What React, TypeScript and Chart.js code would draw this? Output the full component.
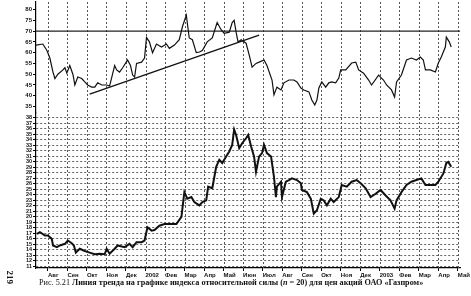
import React, { useEffect, useRef } from "react";
import { Chart, registerables } from "chart.js";

Chart.register(...registerables);

// Month tick labels (index 0 = Aug 2001)
const monthLabels = [
  "Авг", "Сен", "Окт", "Ноя", "Дек", "2002", "Фев", "Мар", "Апр", "Май", "Июн",
  "Июл", "Авг", "Сен", "Окт", "Ноя", "Дек", "2003", "Фев", "Мар", "Апр", "Май",
];

const xMin = -0.61;
const xMax = 21.12;

// RSI (n = 20): time in months since Aug 2001, value
const rsiT = [
  -0.61, -0.26, -0.05, 0.1, 0.26, 0.36, 0.51, 0.77, 0.87, 0.97, 1.12, 1.28, 1.38, 1.53,
  1.73, 1.89, 2.04, 2.24, 2.4, 2.55, 2.76, 3.01, 3.16, 3.42, 3.52, 3.67, 3.83, 4.08,
  4.23, 4.34, 4.44, 4.54, 4.8, 4.95, 5.05, 5.2, 5.36, 5.56, 5.82, 6.07, 6.22, 6.48,
  6.73, 6.89, 7.09, 7.24, 7.4, 7.6, 7.76, 7.91, 8.16, 8.42, 8.67, 8.88, 9.03, 9.29,
  9.44, 9.54, 9.64, 9.74, 9.9, 10.15, 10.31, 10.46, 10.66, 10.82, 11.07, 11.22, 11.48,
  11.58, 11.73, 11.94, 12.09, 12.35, 12.6, 12.76, 12.96, 13.11, 13.37, 13.52, 13.67,
  13.78, 13.88, 14.03, 14.23, 14.39, 14.54, 14.74, 14.9, 15.0, 15.26, 15.56, 15.77,
  15.92, 16.17, 16.43, 16.58, 16.94, 17.19, 17.35, 17.6, 17.76, 17.86, 18.11, 18.37,
  18.62, 18.88, 19.08, 19.23, 19.34, 19.59, 19.85, 20.0, 20.15, 20.36, 20.41, 20.56,
  20.66,
];
const rsiV = [
  63.5, 64, 61, 57.5, 51, 48, 50, 52, 53, 50.5, 54, 50, 45, 48.7,
  48, 46.4, 45, 44, 44, 46, 45, 45, 44.5, 54, 52, 51, 53, 56.6,
  54, 49.6, 48.7, 55, 55.6, 57.5, 67, 65, 60, 64, 62.6, 64, 62, 63.5,
  66, 72, 77.4, 66.8, 66, 60, 60.3, 61, 65, 66.8, 74, 70.5, 69, 69.5,
  74, 75, 69.5, 65, 66, 64.4, 59, 53.3, 55, 55.6, 56.6, 54, 47.3,
  40.4, 44, 42.7, 46, 47.3, 47.3, 46.4, 43.6, 42.7, 41.8, 38, 35.7,
  38, 43.6, 46.4, 44, 46, 46.4, 46, 48.2, 52, 52, 55.2, 55.6,
  52, 50.5, 47.3, 45, 49.6, 47.3, 45, 42.7, 39.4, 46.4, 49.6, 56.6,
  57.5, 56.6, 58, 56.6, 52, 52, 51, 55.2, 58, 62.6, 67.2, 65,
  62.6,
];

// Gazprom share price
const priceT = [
  -0.56, -0.41, -0.15, 0.0, 0.2, 0.26, 0.46, 0.61, 0.87, 1.02, 1.22, 1.33, 1.43, 1.63,
  1.89, 2.14, 2.4, 2.65, 2.91, 3.01, 3.16, 3.42, 3.57, 3.93, 4.18, 4.34, 4.54, 4.8,
  4.95, 5.1, 5.31, 5.46, 5.71, 5.97, 6.22, 6.58, 6.84, 6.99, 7.14, 7.35, 7.5, 7.76,
  7.91, 8.11, 8.21, 8.42, 8.62, 8.78, 8.93, 9.13, 9.29, 9.44, 9.54, 9.64, 9.8, 9.95,
  10.15, 10.26, 10.41, 10.56, 10.66, 10.82, 10.97, 11.07, 11.22, 11.43, 11.58, 11.68,
  11.73, 11.94, 11.99, 12.19, 12.35, 12.5, 12.76, 12.96, 13.01, 13.27, 13.47, 13.62,
  13.78, 13.98, 14.13, 14.29, 14.49, 14.64, 14.9, 15.05, 15.31, 15.56, 15.82, 16.02,
  16.28, 16.53, 16.79, 17.04, 17.3, 17.55, 17.76, 17.86, 18.11, 18.37, 18.62, 18.88,
  19.13, 19.34, 19.59, 19.85, 20.0, 20.26, 20.41, 20.51, 20.66,
];
const priceV = [
  16.9, 17.2, 16.6, 16.6, 16, 14.8, 14.5, 14.8, 15.1, 15.7, 15.2, 14.8, 13.5, 14.2,
  13.8, 13.5, 13.2, 13.3, 13.2, 14.2, 13.3, 14.2, 14.8, 14.5, 15.1, 14.5, 15.4, 15.4,
  15.7, 18.1, 17.5, 17.6, 18.4, 18.7, 18.7, 18.7, 20, 24.5, 23.3, 23.6, 22.7, 22.1,
  22.7, 23, 25.5, 25.2, 29.1, 30.4, 29.8, 31, 31.9, 33.1, 35.9, 34.9, 32.5, 33.4,
  34.3, 34.9, 32.8, 31, 28.2, 31, 31.6, 33.1, 31.6, 31, 27.3, 23.6,
  25.5, 26.4, 23.6, 26.4, 26.7, 27, 26.7, 26.1, 24.9, 24.5, 23.3, 20.6,
  21.2, 23.3, 23, 22.1, 23.3, 22.7, 23.6, 25.8, 25.5, 26.4, 26.7, 26.1,
  25.2, 23.6, 24.2, 24.9, 23.9, 23, 21.5, 23, 24.5, 25.8, 26.4, 26.7,
  27, 25.8, 25.8, 25.8, 26.4, 27.9, 29.8, 30, 29.1,
];

// Trend line on RSI and the 70 level
const trendT = [2.14, 10.82];
const trendV = [40.8, 68.1];
const levelT = [xMin, xMax];
const levelV = [70, 70];

const zip = (t: number[], v: number[]) => t.map((x, i) => ({ x, y: v[i] }));

const tickFont = { family: "'Liberation Sans', Arial, sans-serif", size: 6, weight: "bold" as const };

// Dotted vertical month grid spanning both panes
const monthGrid = {
  id: "monthGrid",
  beforeDatasetsDraw(chart: any) {
    const { ctx, chartArea, scales } = chart;
    const xs = scales.x;
    ctx.save();
    ctx.strokeStyle = "#555";
    ctx.lineWidth = 1;
    ctx.setLineDash([2, 2]);
    xs.ticks.forEach((t: any) => {
      const px = Math.round(xs.getPixelForValue(t.value)) + 0.5;
      ctx.beginPath();
      ctx.moveTo(px, chartArea.top);
      ctx.lineTo(px, chartArea.bottom);
      ctx.stroke();
    });
    ctx.restore();
  },
};

export default function App() {
  const ref = useRef<HTMLCanvasElement | null>(null);

  useEffect(() => {
    if (!ref.current) return;
    const chart = new Chart(ref.current, {
      type: "line",
      plugins: [monthGrid],
      data: {
        datasets: [
          {
            data: zip(priceT, priceV),
            yAxisID: "y",
            borderColor: "#111",
            borderWidth: 2,
            pointRadius: 0,
            tension: 0,
          },
          {
            data: zip(rsiT, rsiV),
            yAxisID: "yR",
            borderColor: "#111",
            borderWidth: 1.2,
            pointRadius: 0,
            tension: 0,
          },
          {
            data: zip(trendT, trendV),
            yAxisID: "yR",
            borderColor: "#111",
            borderWidth: 1.3,
            pointRadius: 0,
          },
          {
            data: zip(levelT, levelV),
            yAxisID: "yR",
            borderColor: "#222",
            borderWidth: 1.4,
            pointRadius: 0,
          },
        ],
      },
      options: {
        responsive: false,
        animation: false,
        layout: { padding: { left: 0, right: 9, top: 2, bottom: 16 } },
        plugins: { legend: { display: false }, tooltip: { enabled: false } },
        scales: {
          x: {
            type: "linear",
            min: xMin,
            max: xMax,
            ticks: {
              stepSize: 1,
              includeBounds: false,
              autoSkip: false,
              maxRotation: 0,
              align: "start",
              padding: 1,
              color: "#111",
              font: tickFont,
              callback: (v: any) => monthLabels[Math.round(Number(v))] ?? "",
            },
            grid: { drawOnChartArea: false, color: "#444", lineWidth: 1, tickLength: 3, tickColor: "#000" },
            border: { color: "#000", width: 1.2 },
            afterFit: (s: any) => {
              s.height = 12;
            },
          },
          y: {
            type: "linear",
            position: "left",
            stack: "panes",
            stackWeight: 155,
            min: 10.7,
            max: 38.9,
            ticks: {
              stepSize: 1,
              includeBounds: false,
              autoSkip: false,
              padding: 1,
              color: "#111",
              font: { ...tickFont, size: 5.5 },
            },
            grid: { color: "#666", lineWidth: 1, tickLength: 3, tickColor: "#000" },
            border: { color: "#000", width: 1.2, dash: [2, 2] },
            afterFit: (s: any) => {
              s.width = 36;
              s.paddingTop = 0;
              s.paddingBottom = 0;
            },
          },
          yR: {
            type: "linear",
            position: "left",
            stack: "panes",
            stackWeight: 111,
            min: 32,
            max: 83.5,
            ticks: {
              stepSize: 5,
              includeBounds: false,
              autoSkip: false,
              padding: 1,
              color: "#111",
              font: tickFont,
            },
            grid: { drawOnChartArea: false, tickLength: 3, tickColor: "#000" },
            border: { color: "#000", width: 1.2 },
            afterFit: (s: any) => {
              s.width = 36;
              s.paddingTop = 0;
              s.paddingBottom = 0;
            },
          },
        },
      },
    });
    return () => chart.destroy();
  }, []);

  return (
    <div
      style={{
        position: "fixed",
        left: 0,
        top: 0,
        width: 471,
        height: 296,
        background: "#fff",
        overflow: "hidden",
      }}
    >
      <canvas
        ref={ref}
        width={471}
        height={296}
        style={{ position: "absolute", left: 0, top: 0, width: 471, height: 296 }}
      />
      <div
        style={{
          position: "absolute",
          left: 39,
          top: 277,
          fontFamily: "'Liberation Serif', 'Times New Roman', serif",
          fontSize: 8.2,
          color: "#111",
          whiteSpace: "nowrap",
          lineHeight: "11px",
        }}
      >
        Рис. 5.21{" "}
        <b>
          Линия тренда на графике индекса относительной силы (<i>n</i> = 20) для цен акций ОАО «Газпром»
        </b>
      </div>
      <div
        style={{
          position: "absolute",
          left: 1,
          top: 273,
          width: 16,
          transform: "rotate(90deg)",
          transformOrigin: "center",
          fontFamily: "'Liberation Serif', 'Times New Roman', serif",
          fontWeight: "bold",
          fontSize: 9,
          color: "#111",
          lineHeight: "11px",
        }}
      >
        219
      </div>
    </div>
  );
}
